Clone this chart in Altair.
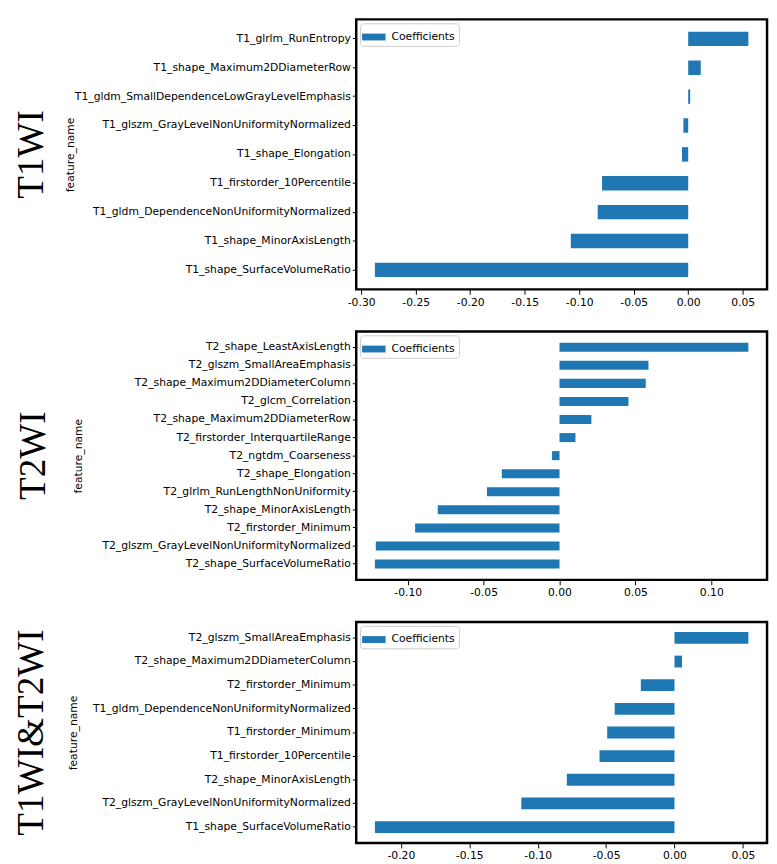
import altair as alt
import pandas as pd

# ---------------- data ----------------
t1_features = [
    "T1_glrlm_RunEntropy",
    "T1_shape_Maximum2DDiameterRow",
    "T1_gldm_SmallDependenceLowGrayLevelEmphasis",
    "T1_glszm_GrayLevelNonUniformityNormalized",
    "T1_shape_Elongation",
    "T1_firstorder_10Percentile",
    "T1_gldm_DependenceNonUniformityNormalized",
    "T1_shape_MinorAxisLength",
    "T1_shape_SurfaceVolumeRatio",
]
t1_coefs = [0.0552, 0.0115, 0.0018, -0.0044, -0.0057, -0.0790, -0.0830, -0.1077, -0.2874]
t1_ticks = [-0.30, -0.25, -0.20, -0.15, -0.10, -0.05, 0.00, 0.05]

t2_features = [
    "T2_shape_LeastAxisLength",
    "T2_glszm_SmallAreaEmphasis",
    "T2_shape_Maximum2DDiameterColumn",
    "T2_glcm_Correlation",
    "T2_shape_Maximum2DDiameterRow",
    "T2_firstorder_InterquartileRange",
    "T2_ngtdm_Coarseness",
    "T2_shape_Elongation",
    "T2_glrlm_RunLengthNonUniformity",
    "T2_shape_MinorAxisLength",
    "T2_firstorder_Minimum",
    "T2_glszm_GrayLevelNonUniformityNormalized",
    "T2_shape_SurfaceVolumeRatio",
]
t2_coefs = [0.1244, 0.0586, 0.0568, 0.0454, 0.0210, 0.0105, -0.0049, -0.0380,
            -0.0478, -0.0802, -0.0951, -0.1210, -0.1216]
t2_ticks = [-0.10, -0.05, 0.00, 0.05, 0.10]

t12_features = [
    "T2_glszm_SmallAreaEmphasis",
    "T2_shape_Maximum2DDiameterColumn",
    "T2_firstorder_Minimum",
    "T1_gldm_DependenceNonUniformityNormalized",
    "T1_firstorder_Minimum",
    "T1_firstorder_10Percentile",
    "T2_shape_MinorAxisLength",
    "T2_glszm_GrayLevelNonUniformityNormalized",
    "T1_shape_SurfaceVolumeRatio",
]
t12_coefs = [0.0540, 0.0055, -0.0246, -0.0437, -0.0492, -0.0548, -0.0787, -0.1120, -0.2190]
t12_ticks = [-0.20, -0.15, -0.10, -0.05, 0.00, 0.05]

panel_titles = ["T1WI", "T2WI", "T1WI&T2WI"]
series_name = "Coefficients"
bar_color = "#1f77b4"

LABEL_FONT = "DejaVu Sans"
TITLE_FONT = "Liberation Serif"
MINUS_FIX = "replace(format(datum.value, '.2f'), '\u2212', '-')"


def panel(features, coefs, ticks, title, height, title_offset, yt_x):
    df = pd.DataFrame({"feature_name": features, "coef": coefs,
                       "series": [series_name] * len(features)})
    lo, hi = min(coefs), max(coefs)
    pad = 0.05 * (hi - lo)
    n = len(features)
    return (
        alt.Chart(df)
        .mark_bar()
        .encode(
            x=alt.X(
                "coef:Q",
                scale=alt.Scale(domain=[lo - pad, hi + pad], nice=False, zero=False),
                axis=alt.Axis(
                    title=None, values=ticks, labelExpr=MINUS_FIX, grid=False,
                    domain=False, tickColor="black", tickSize=5, tickWidth=1,
                    labelColor="black", labelFont=LABEL_FONT, labelFontSize=11,
                    labelPadding=2, labelFlush=False,
                ),
            ),
            y=alt.Y(
                "feature_name:N",
                sort=features,
                scale=alt.Scale(paddingInner=0.5, paddingOuter=0.05 * (n - 0.5)),
                axis=alt.Axis(
                    title="feature_name", titleFont=LABEL_FONT, titleFontSize=11,
                    titleFontWeight="normal", titleColor="black",
                    titleX=yt_x, titleY=height / 2, titleAngle=270,
                    titleBaseline="bottom", titleAlign="center",
                    domain=False, tickColor="black", tickSize=4, tickWidth=1,
                    labelColor="black", labelFont=LABEL_FONT, labelFontSize=11,
                    labelPadding=2, labelLimit=400,
                ),
            ),
            color=alt.Color(
                "series:N",
                scale=alt.Scale(range=[bar_color]),
                legend=alt.Legend(
                    title=None, orient="top-left", offset=4, padding=4,
                    strokeColor="#cccccc", fillColor="white", cornerRadius=3,
                    symbolType="M-1.2,-0.35H1.2V0.35H-1.2Z", symbolSize=400,
                    symbolStrokeWidth=0, labelFont=LABEL_FONT, labelFontSize=11,
                    labelColor="black", labelOffset=8,
                ),
            ),
        )
        .properties(
            width=420,
            height=height,
            title=alt.TitleParams(
                title, orient="left", anchor="middle", font=TITLE_FONT,
                fontSize=38, fontWeight="normal", color="black", offset=title_offset,
            ),
        )
    )


p1 = panel(t1_features, t1_coefs, t1_ticks, panel_titles[0], 276, 14, -287)
p2 = panel(t2_features, t2_coefs, t2_ticks, panel_titles[1], 254, 20, -279)
p3 = panel(t12_features, t12_coefs, t12_ticks, panel_titles[2], 226, 17, -284)

chart = (
    alt.vconcat(p1, p2, p3, spacing=21)
    .resolve_scale(color="independent", x="independent", y="independent")
    .resolve_legend(color="independent")
    .properties(padding={"left": 4, "top": 0, "right": 0, "bottom": 0})
    .configure_view(stroke="black", strokeWidth=2.5)
)

chart.save("out.html", embed_options={"renderer": "svg", "actions": False})
